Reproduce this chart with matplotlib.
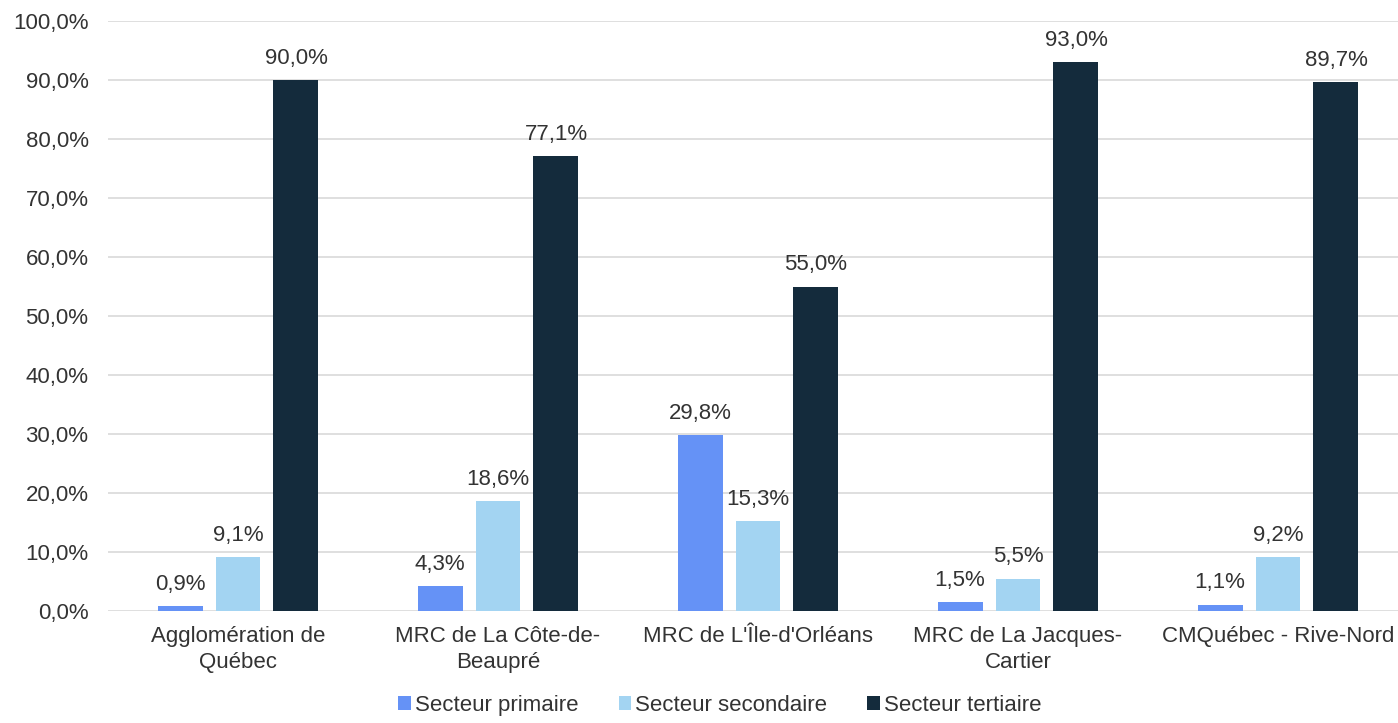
import numpy as np
import matplotlib
matplotlib.use("Agg")
import matplotlib.pyplot as plt

plt.rcParams["font.family"] = ["Liberation Sans", "DejaVu Sans"]

categories = ["Agglomération de\nQuébec", "MRC de La Côte-de-\nBeaupré",
              "MRC de L'Île-d'Orléans", "MRC de La Jacques-\nCartier",
              "CMQuébec - Rive-Nord"]
primaire   = [0.9, 4.3, 29.8, 1.5, 1.1]
secondaire = [9.1, 18.6, 15.3, 5.5, 9.2]
tertiaire  = [90.0, 77.1, 55.0, 93.0, 89.7]
series_names = ["Secteur primaire", "Secteur secondaire", "Secteur tertiaire"]
colors = ["#6592f6", "#a3d4f2", "#142b3c"]
text_col = "#333333"
fs = 16


def fmt(v):
    return f"{v:.1f}".replace(".", ",") + "%"


fig = plt.figure(figsize=(13.98, 7.23), dpi=100)
ax = fig.add_axes([108 / 1398, (723 - 611) / 723, 1290 / 1398, 590 / 723])

x = np.arange(len(categories))
w = 0.173
step = 0.223
for k, (vals, name, c) in enumerate(zip([primaire, secondaire, tertiaire], series_names, colors)):
    pos = x + (k - 1) * step
    ax.bar(pos, vals, w, color=c, label=name, zorder=3)
    for p, v in zip(pos, vals):
        ax.annotate(fmt(v), (p, v), xytext=(0, 8), textcoords="offset points",
                    ha="center", va="bottom", fontsize=fs, color=text_col)

ax.set_ylim(0, 100)
ax.set_xlim(-0.5, 4.5 - 10 / 260)
ax.set_yticks(np.arange(0, 101, 10))
ax.set_yticklabels([fmt(v) for v in np.arange(0, 101, 10)], fontsize=fs, color=text_col)
ax.set_xticks(x)
ax.set_xticklabels(categories, fontsize=fs, color=text_col, linespacing=1.3)
ax.tick_params(axis="both", length=0)
ax.tick_params(axis="x", pad=11)
ax.tick_params(axis="y", pad=14)
ax.grid(axis="y", color="#d9d9d9", linewidth=1.2, zorder=0)
for s in ax.spines.values():
    s.set_visible(False)

fig.legend(loc="lower center", bbox_to_anchor=(0.515, -0.018), ncol=3, frameon=False,
           fontsize=fs, handlelength=0.55, handleheight=0.55, handletextpad=0.2,
           columnspacing=1.8, labelcolor=text_col)

fig.savefig("out.png", dpi=100, facecolor="white")
